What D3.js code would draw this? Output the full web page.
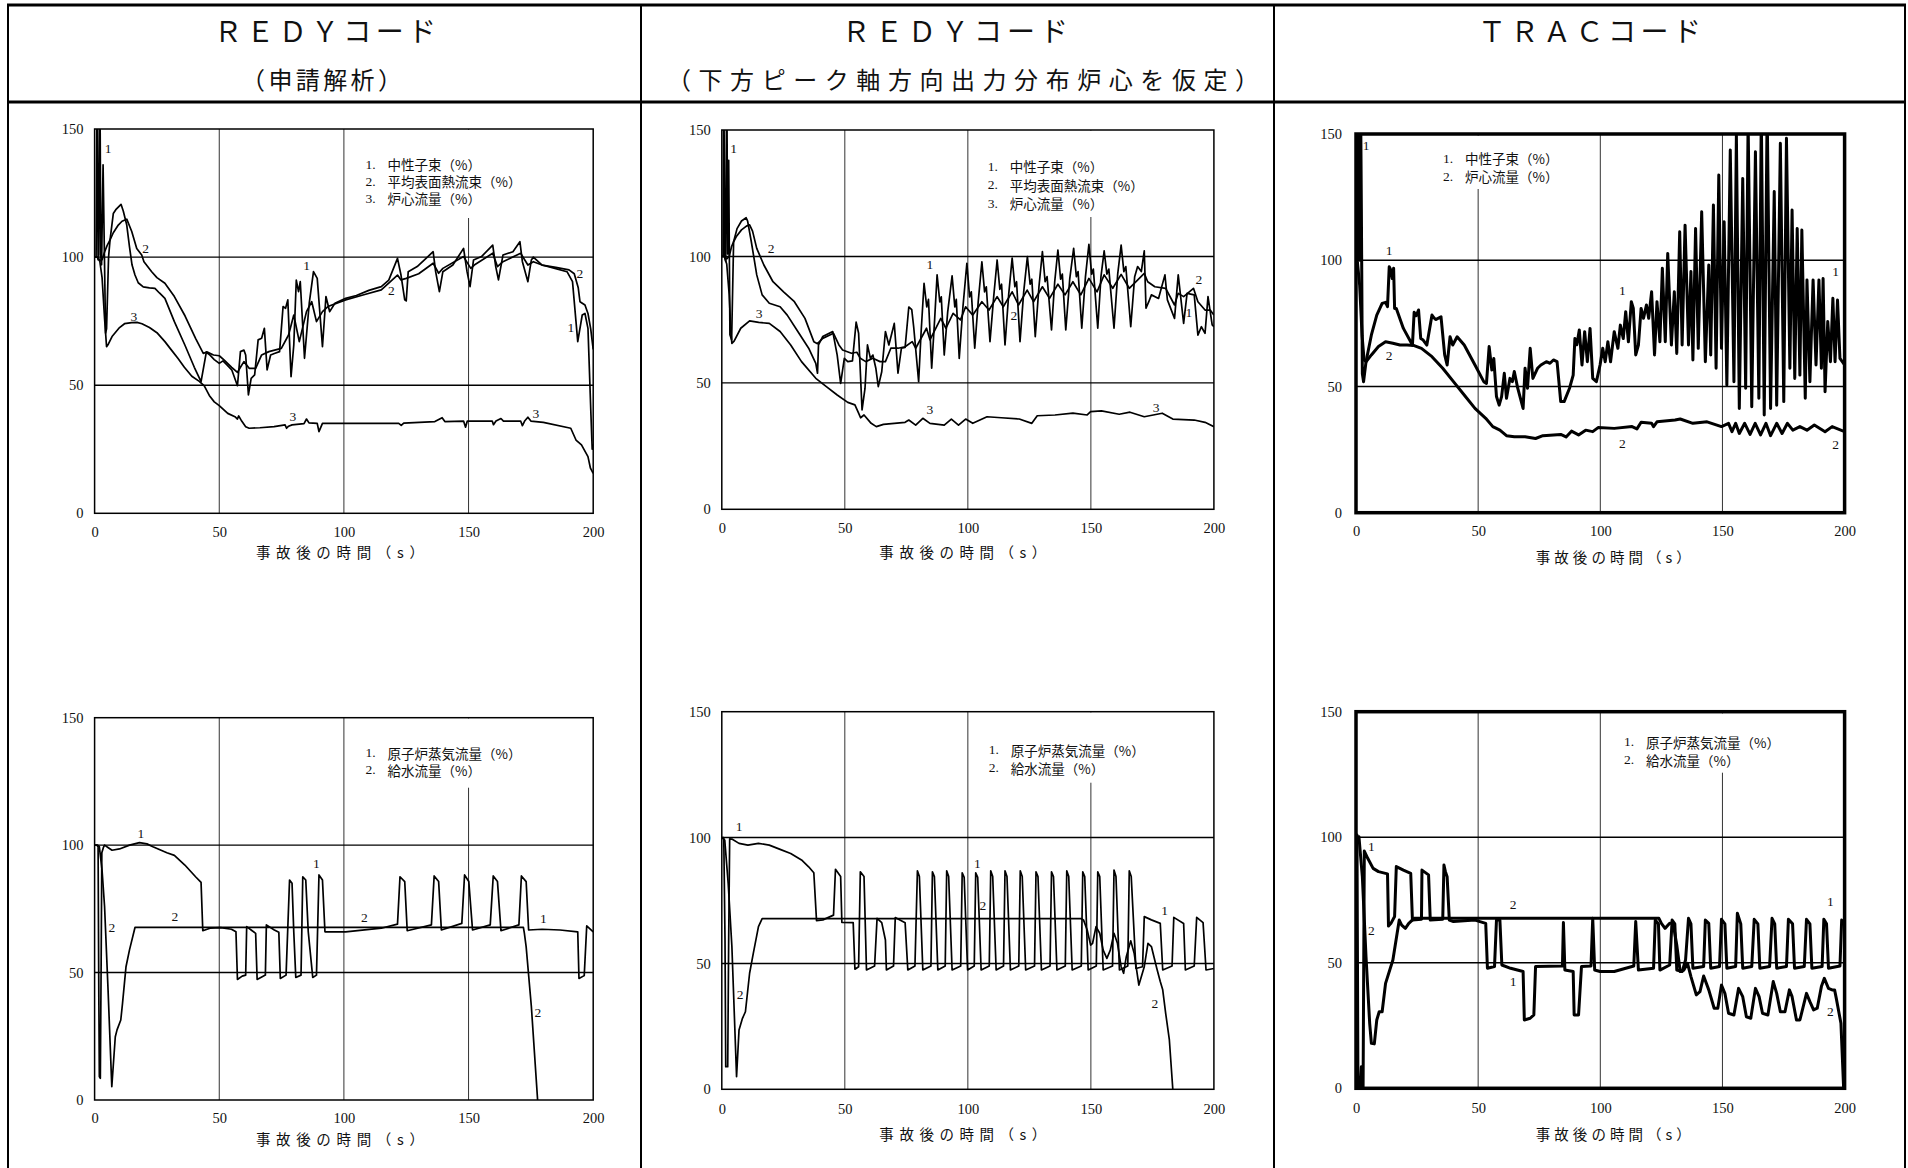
<!DOCTYPE html>
<html><head><meta charset="utf-8">
<script src="https://cdn.jsdelivr.net/npm/d3@7"></script>
<style>body{margin:0;background:#fff;}svg{display:block}</style>
</head><body>
<svg id="c" width="1908" height="1168"></svg>
<script>
// ---------------- DATA ----------------
const xTicks = [0, 50, 100, 150, 200];
const yTicks = [0, 50, 100, 150];
const gridX = [50, 100, 150];
const gridY = [50, 100];
const headerLine1 = ["ＲＥＤＹコード", "ＲＥＤＹコード", "ＴＲＡＣコード"];
const headerLine2 = ["（申請解析）", "（下方ピーク軸方向出力分布炉心を仮定）", ""];
const xTitle = "事故後の時間（s）";
const legendREDY = ["中性子束（%）", "平均表面熱流束（%）", "炉心流量（%）"];
const legendTRAC = ["中性子束（%）", "炉心流量（%）"];
const legendFlow = ["原子炉蒸気流量（%）", "給水流量（%）"];

// Panel 1: REDY (申請解析) – neutron flux / heat flux / core flow
const p1Neutron = [[0,100],[0.6,100],[1.0,175],[1.4,99],[1.7,101],[2.1,175],[2.5,100],[2.8,97],[3.4,136],[4.4,70.4],[4.8,72],[5.6,100],[6.2,106.7],[7.5,117],[8.5,118.5],[10.6,120.6],[11.5,118],[12.9,112.5],[14,104],[15,97],[16.2,93],[17.5,90],[19.5,88.4],[22,88],[24.2,87.8],[26,86],[28.2,83.9],[32,74.8],[36.2,65.7],[40,57],[42.7,51.4],[44.8,62.8],[46,62],[48,60],[50,58.5],[51.5,59.5],[53,58],[55,56],[57.3,49.8],[58.5,63.1],[59.9,63.7],[60.6,61.8],[61.7,46.2],[62.8,52.7],[64.2,54],[65.6,67.7],[67,68.3],[68.1,72.2],[69.2,56],[70.6,61.8],[72.1,62.4],[74.2,63.1],[75.6,80.7],[76.6,80],[77.5,83.3],[78.8,53.3],[79.9,65.7],[80.9,91],[81.8,86.5],[82.5,90.4],[84.2,60.5],[86.1,82],[87.8,94.3],[89.3,91.7],[91.4,65],[92.8,84.6],[94.3,78.7],[96.4,82],[100.7,83.9],[105,85],[110,87],[115,88.5],[118,91],[121.5,99.5],[122.9,93],[124.4,83.3],[125,82.9],[125.8,94.3],[129.4,96.3],[135.8,102.1],[136.8,94.3],[138.3,86.5],[139.7,94.3],[143.7,96.9],[148,103.4],[149.4,94.3],[150.6,88.5],[152,98.9],[155.2,100.2],[159.7,104.7],[160.9,96.3],[162,91.1],[163.8,100.8],[167.8,102.1],[170.6,106],[171.6,98.2],[173.8,90.4],[175.2,98.9],[176,100],[179.5,96.9],[185,95.5],[189.5,94.3],[191.7,90.4],[193.1,74.8],[193.8,67],[195.6,77.4],[196.7,78],[197.9,72.2],[199.1,38.4],[199.6,25],[200,27]];
const p1HeatFlux = [[0,100],[1,100],[2,98.5],[3,99],[4,102],[5,104.5],[6.2,106.7],[7.5,109.5],[9.5,112.5],[11,114],[12.9,114.8],[14.9,110],[16.9,103.4],[18.9,100.8],[19.8,98.2],[22.9,94.3],[25,92],[28.2,89.8],[32,84.6],[36.3,77],[40.5,68.3],[43.6,62.4],[45,63],[47.7,61.8],[50,61.5],[52,59.8],[55,57],[57.3,55],[58.5,57],[59.9,59.2],[62,56.6],[64.6,56.6],[67,61.8],[69.9,63.1],[74.9,64.4],[77.8,69.6],[79.9,77.4],[82.1,67],[85,78.7],[87.1,82.6],[89,74.8],[91.4,78.7],[93.6,80.7],[100.7,83.3],[108,85.3],[115,87.2],[121.5,93],[122.9,91.1],[125,91.7],[130,93.5],[135.8,97.6],[138,93.7],[139.7,95.6],[148,100.2],[150.9,95.6],[152.3,96.9],[159.7,101.5],[161.6,96.3],[163.8,98.2],[170.9,101.5],[173.8,96.9],[176,98.2],[179.5,96.9],[185,96],[190.3,95],[192.4,93.5],[194,88],[194.7,82.6],[196.7,81.3],[197.9,78],[199,72],[200,64]];
const p1CoreFlow = [[0,100],[1,100],[2,99],[3,92],[4,76],[4.8,65],[5.5,66],[7,69],[10,72.5],[12,74],[14.9,74.4],[17,74.5],[19,74],[22,72.5],[25,70.5],[28.2,67],[31,63.5],[33.4,60.5],[36,57],[39,53.5],[42,51.5],[44,49.7],[46,46],[48,43.5],[50,42],[53.4,39],[56.3,37.7],[57.3,36.8],[57.8,38],[59,36],[60.6,33.8],[62,33.2],[66.3,33.4],[72,33.8],[76.4,34.5],[77,33.2],[77.8,34],[79.2,34.5],[84,35],[85,36.8],[86,35.3],[89.3,35.1],[90,31.9],[91.4,35.1],[100.7,35.1],[122,35.1],[123,34.3],[124,35.2],[136.5,35.8],[139.4,37.3],[140.5,35.8],[148,36],[148.8,33.6],[149.5,36],[159.5,36],[160,34.6],[161,36],[163,37],[164,36],[170.9,36],[171.6,34.2],[172.5,36],[173.8,37.5],[175,36],[180,35.5],[191,33.2],[193.1,28.6],[195.3,26.7],[197.9,22.1],[198.9,17.6],[200,15.6]];
const p1Labels = [[5.4,142.5,"1"],[20.5,103.4,"2"],[15.8,77,"3"],[85,96.7,"1"],[119,87,"2"],[79.5,37.7,"3"],[177,39,"3"],[194.7,93.7,"2"],[191,72.5,"1"]];

// Panel 2: REDY (下方ピーク) – neutron flux / heat flux / core flow
const p2Neutron = [[0,100],[0.5,100],[0.8,175],[1.2,100],[1.6,98],[2,175],[2.4,101],[2.8,138],[3.3,69],[4,67],[4.8,105.8],[6.2,111],[8,114],[9.9,115.3],[10.5,114],[12,105.8],[14.2,92.7],[16.4,84.8],[19.3,81.5],[23.7,80.1],[26.6,76.8],[30.9,70.3],[35.3,63.7],[38.2,57.7],[38.9,53.8],[39.3,65],[41,68.3],[45.1,70.3],[46.9,61],[48.3,49.8],[49.8,59.7],[51.2,58.4],[53.1,58.7],[54.6,74],[55.6,69.6],[57,39.3],[58.2,47.8],[59.2,65],[60.4,59.7],[61.4,61],[62.6,55.8],[63.6,48.5],[65,54.4],[66.5,70.3],[67.9,65],[70.1,73.5],[71.6,53.8],[73,63.7],[74.5,64],[76,80],[77.2,79],[78,72],[80,50.5],[81,70],[82.2,89.4],[83.3,80],[84,83],[85.3,55.8],[86.5,75],[87.5,92.7],[88.6,82],[89.2,84],[90.4,61],[91.8,78],[93.6,92.3],[94.7,80],[95.3,83],[96.5,59.7],[98,80],[99.6,97.3],[100.7,84],[101.4,86],[102.8,63.7],[104.2,82],[105.7,97.9],[106.8,86],[107.5,88],[109,66.3],[110.5,84],[111.9,98.6],[113,87],[113.7,89],[115.1,65],[116.6,85],[118,99.3],[119.1,88],[119.8,90],[121.2,66.3],[122.7,86],[124.2,99.9],[125.3,89],[126,91],[127.4,68.3],[128.9,88],[130.3,101.9],[131.4,90],[132.2,92],[134,70.9],[135.3,90],[136.6,102.5],[137.7,91],[138.4,93],[139.8,70.9],[141.4,91],[143,103.2],[144.1,92],[144.8,94],[146.3,71.6],[147.8,92],[149.2,104.8],[150.3,93],[151,95],[152.8,71.6],[154.1,92],[155.4,102.2],[156.5,93],[157.3,95],[159.4,71.6],[160.9,93],[162.3,104.5],[163.4,94],[164.2,96],[166.2,72.2],[167.8,92],[169,96],[170.5,94],[171.7,102.2],[172.4,79.5],[173.5,82],[174.6,84.8],[177.5,83.4],[180.1,92.7],[181.1,82.8],[184,75.5],[185.5,92.7],[187.7,73.5],[189.1,85.4],[192,84.8],[193.5,68.9],[194.9,72.2],[196.4,69.6],[197.6,84.1],[199.3,72.9],[200,72.2]];
const p2HeatFlux = [[0,100],[1,100],[2,99],[3,100],[4,104],[4.8,105.8],[6,108],[8,110.5],[10,112],[11.3,112.5],[12.5,110],[14.2,103.2],[17.1,96.6],[20.8,90],[25.1,86],[29.5,82.1],[33.8,75.5],[37.4,66.3],[38.9,65.5],[41,67.6],[45.4,69.6],[47.6,65],[49.1,63],[52.7,61.7],[54.9,62.1],[56.3,59.7],[58.5,58.4],[61.4,59.7],[64.3,58.4],[66.5,58.4],[68.7,63.7],[71.6,63.7],[74.5,64.3],[77.4,66.3],[78.8,63.7],[83.2,71.6],[84.6,67],[89,75.5],[91.1,71.6],[94,77.5],[97,74.9],[99.1,80.1],[102,76.8],[105.7,82.1],[108.6,78.8],[111.9,84.1],[114.4,80.1],[118,86],[120.6,80.8],[124.1,86.7],[126.7,82.1],[130.3,88],[133.2,83.4],[136.6,89],[139.5,84.8],[142.7,90],[145.9,84.8],[149.2,91.3],[152.5,86],[155.4,92.7],[158.9,87.4],[162.3,92.9],[165.6,87.4],[171.7,93.3],[173.1,90],[176,88],[180.4,87.4],[184,80.8],[185.5,85.4],[187.7,84.1],[191.7,87.4],[193.5,82.1],[196.4,78.8],[198.5,78.8],[200,76.8]];
const p2CoreFlow = [[0,100],[1,100],[2,97],[3,85],[3.7,70],[4.1,65.6],[5,66.5],[7.7,71.6],[11.3,74.5],[15,73.9],[19.3,73.5],[23.7,70.3],[28,65],[32.4,58.4],[38.2,51.8],[42.5,48.5],[46.9,45.2],[51.2,42.3],[54.1,41.3],[55.6,38],[56.4,36.2],[57.8,37.3],[60.7,34],[62.8,32.7],[65.7,33.6],[74.5,34.4],[76,35.3],[78.8,33.3],[81.7,36],[84.6,34],[90.4,33.3],[93.3,35.7],[96.2,33.3],[99.1,35.7],[102,34],[107.8,36.6],[113.6,36.2],[120.9,35.7],[126,34],[128.2,37],[135.4,37.3],[142.7,38],[148.5,37.3],[149.9,38.6],[154.3,38.9],[161.5,37.6],[165.9,38.4],[171.7,36.6],[179,38],[183.3,35.7],[192,35.3],[196.4,34.4],[200,32.7]];
const p2Labels = [[4.8,142.7,"1"],[20,103.2,"2"],[15.2,77.5,"3"],[84.6,96.9,"1"],[118.7,76.8,"2"],[84.6,39.3,"3"],[176.5,40.2,"3"],[193.9,91,"2"],[189.8,77.9,"1"]];

// Panel 3: TRAC – neutron flux / core flow
const p3Neutron = [[0,100],[0.4,100],[0.7,175],[1.2,175],[1.5,100],[1.8,175],[2.2,120],[2.6,55],[3.1,51.9],[4.1,59.8],[6.3,70.4],[8.5,78.3],[10.7,82.9],[12.1,83.3],[12.9,81.6],[13.6,97.4],[14.3,96.1],[14.8,92.8],[15.4,96.8],[15.8,80.9],[16.5,80.9],[19.4,73],[23.1,66.4],[23.8,79.4],[24.6,78],[25.6,80.3],[26.5,69],[27.5,68.4],[29,66.4],[31.1,78.3],[31.9,77.2],[32.6,76.5],[34.8,77.6],[36.3,62.5],[37.3,58.5],[38.5,69.7],[39.6,66.4],[41.4,69.7],[44.3,66.4],[48.7,58.5],[52.3,51.9],[53.4,51.2],[54.5,65.8],[55.6,56.5],[56.4,61.1],[57.5,46],[58.6,42.6],[59.6,46],[60.7,55.2],[61.6,45.3],[63,53.2],[64,51.9],[64.8,55.9],[66.2,49.3],[68.4,41.3],[69.2,57.2],[70.2,49.3],[71.3,65.1],[72.4,53.2],[74.3,57.2],[75.7,58.5],[77.9,59.8],[79.4,59.2],[80.8,60.5],[82.3,59.8],[83.8,44],[85.2,44],[87.4,49.3],[88.9,54.5],[89.6,69],[90.4,66.5],[91.4,72.4],[92.5,58.5],[93.6,71.7],[94.7,59.8],[95.8,73],[96.9,53.2],[98.4,51.9],[99.9,58.5],[101,65.1],[102,59.8],[103.1,67.7],[104.2,59.8],[105.7,71.7],[107.2,65.1],[108.2,74.3],[109.4,69],[110.4,79.6],[111.5,67.7],[112.7,83.6],[113.5,81],[114.5,62.5],[115.6,66.4],[116.7,80.9],[117.7,77],[118.9,82.3],[119.8,77],[121,87.5],[122.2,62.5],[123.2,83.6],[124.4,67.7],[125.4,96.8],[126.6,67.7],[127.6,102.7],[129.1,66.4],[130.3,87.5],[131.3,63.1],[132.5,111.3],[133.5,66.4],[134.7,113.9],[136.1,66.4],[137.1,95.5],[137.9,60.5],[139,112.6],[140.1,65.1],[141.5,119.2],[143,59.8],[144.4,98.1],[145.2,62.5],[146.3,121.9],[147.4,57.2],[148.5,133.8],[149.6,65.1],[150.7,115.2],[151.8,50.6],[153.2,143.7],[154.7,51.9],[155.7,149.6],[156.9,41.3],[158.3,132.4],[159.5,49.3],[160.5,155],[162,42],[163.5,143],[164.9,45.3],[165.9,158],[167.1,38.7],[168.3,160],[169.7,41.3],[171.2,127.2],[172.2,42.6],[173.7,146.3],[175.1,44],[176.2,148.3],[177.6,57.2],[178.5,119.9],[179.6,53.2],[180.6,112.6],[181.7,54.5],[182.5,112],[183.9,45.3],[184.6,92.2],[185.8,51.9],[187.1,92.2],[188.3,58.5],[189.5,92.2],[190.5,57.2],[191.2,92.8],[192,47.9],[193.1,75.7],[194.2,59.8],[195.2,84.9],[196.1,59.8],[197.1,84.2],[198.1,61.1],[200,58.5]];
const p3CoreFlow = [[0,100],[0.5,100],[1.5,90],[2.5,70],[3.3,60.5],[4.1,59.8],[6.3,62.5],[9.2,65.8],[12.1,67.7],[15.1,67.1],[18,66.4],[20.9,66.4],[23.8,66.2],[26.8,65.1],[31.1,61.8],[35.5,57.2],[39.9,51.9],[44.3,46.6],[48.7,41.3],[53.1,37.4],[56,34.1],[58.9,32.7],[61.6,30.5],[64.8,30.1],[69.2,30.1],[73.5,29.4],[76.5,30.5],[83.8,31],[86,30],[88.2,32.3],[91.1,30.8],[94,32.7],[96.9,32.1],[99.1,33.7],[105.7,33.4],[113,34.1],[115,33.2],[116.7,35.8],[121,35.4],[121.8,34.1],[123.2,36],[130.6,36.7],[132.7,37.1],[137.9,35.4],[143.7,36],[149.6,34.1],[152.5,35.4],[153.9,32.1],[155.4,35.4],[156.9,31.4],[159.1,35.4],[161.3,31],[163.4,35.4],[165.6,30.8],[167.8,35.4],[169.7,30.5],[172.2,35.4],[174.4,31.4],[176.6,35.4],[178.8,32.7],[181.7,34.1],[184.6,32.7],[187.6,34.7],[192,32.1],[194.9,34.1],[200,32.1]];
const p3Labels = [[4.1,145.4,"1"],[13.6,104,"1"],[13.6,62.2,"2"],[109,88.2,"1"],[109,27.5,"2"],[196.3,95.5,"1"],[196.3,27.2,"2"]];

// Panel 4: REDY (申請解析) – steam flow / feedwater flow
const p4Steam = [[0,100],[0.9,100],[1.4,99.4],[1.7,40],[1.9,9.2],[2.3,8.5],[2.6,50],[2.9,97],[3.5,99],[4,100],[5.5,99],[7,98],[10,98.5],[14,100],[18,101],[21,100.5],[23.4,99.4],[29,97],[32,96],[36.2,92.2],[40.5,87.6],[42.7,85.4],[43.4,66.4],[46.3,67.4],[50.6,67.6],[54.9,67],[56.7,66],[57.3,47.3],[59.2,48.6],[60.6,49],[61,68],[62.8,66.7],[64.6,65.4],[65.2,47.3],[68.5,49],[68.9,68.7],[72.1,66.7],[73.9,65.8],[74.5,47.7],[76.8,49],[78.2,86.3],[79.2,85],[79.9,65.8],[80.7,48.1],[82.8,49],[83.5,87.6],[84.7,86.3],[85.7,66],[87.5,48.1],[89,49],[90,88.3],[91.4,86.3],[92.4,66],[100.7,66],[115,67.4],[121.5,69],[122.5,87.6],[124.4,85.7],[125.4,66.4],[135.1,68.7],[136.2,87.9],[138,85.7],[139.1,66.7],[147.3,69.3],[148.4,88.3],[150.1,85.7],[151.6,66.7],[158.7,68.7],[159.9,87.9],[161.6,85.7],[163,66.4],[170.2,68.7],[171.2,87.9],[173.1,85.7],[174.1,66.7],[179.5,67],[186.7,66.7],[193.8,66],[194.3,47.7],[196.4,48.8],[197.4,68.3],[200,66]];
const p4Feed = [[0,100],[1.2,100],[1.9,99.4],[3,90],[4,75.9],[5.4,43.2],[6.9,5.2],[8.3,24.8],[9,27.5],[10.5,31.4],[11.2,37.9],[12.6,52.3],[14,58.9],[16.2,67.7],[172,67.7],[172.4,65.4],[173.1,60.2],[175.2,36.6],[177.7,0]];
const p4Labels = [[18.6,104.6,"1"],[6.9,67.7,"2"],[32.2,71.9,"2"],[89,92.9,"1"],[108.2,71.5,"2"],[180,71.3,"1"],[177.8,34.3,"2"]];

// Panel 5: REDY (下方ピーク) – steam flow / feedwater flow
const p5Steam = [[0,100],[0.8,100],[1.3,60],[1.6,9],[2.4,9],[2.8,60],[3.2,99.5],[4.1,99.4],[7,97.7],[10.6,97],[14.9,97.7],[19.3,97],[23.7,95.3],[28,93.7],[32.4,91.1],[35.3,88.4],[37.4,86],[38.5,67],[41.1,67.3],[45.4,69.2],[46.2,87.4],[48.3,84.5],[48.8,66.3],[53.4,66.2],[54.1,47.7],[55.6,48.7],[56.3,86.4],[57.8,84.5],[58.8,47.4],[62.1,49],[63.1,67.9],[65,66.2],[66.5,59.3],[66.9,47.4],[69.8,49],[70.5,68.2],[74.5,66.2],[75.6,47.4],[78.5,49],[79.5,86.8],[80.3,84.5],[81.7,47.4],[85,49],[85.6,86.4],[86.4,84.5],[87.8,47.4],[90.8,49],[91.4,86.8],[92.2,84.5],[93.6,47.4],[97.1,49],[97.7,86],[98.5,84.2],[99.9,47.4],[102.6,49],[103.2,86],[104,84.2],[105.4,47.4],[108.7,49],[109.3,86.8],[110.1,84.5],[111.5,47.4],[114.5,49],[115.1,86.8],[115.9,84.5],[117.3,47.4],[120.7,49],[121.3,86.8],[122.1,84.5],[123.5,47.4],[127.1,49],[127.7,86.4],[128.5,84.5],[129.9,47.4],[133.4,49],[134,86.4],[134.8,84.5],[136.2,47.4],[139.6,49],[140.2,86.8],[141,84.5],[142.4,47.4],[146.1,49],[146.7,86.4],[147.5,84.5],[148.9,47.4],[152.2,49],[152.8,86.4],[153.6,84.5],[155,47.4],[158.8,49],[159.4,87.1],[160.2,84.5],[161.6,47.4],[165,49],[165.6,86.8],[166.4,84.5],[168.3,48],[171,48.7],[171.7,68.6],[174.6,67.3],[178.2,65.9],[179.2,47.4],[183,49],[183.7,68.3],[187.7,65.9],[188.4,47.4],[192,49],[193,68.3],[195.6,66.2],[196.8,47.4],[200,48]];
const p5Feed = [[0,100],[1.2,99],[2.6,81.8],[4.1,56.7],[6,5],[7,23.6],[8.4,28.2],[9.6,30.8],[11.3,46.1],[12.8,54],[14.9,64.6],[16.4,67.8],[146,67.8],[147,67.3],[148.5,63.3],[149.9,57.3],[150.7,58],[152.1,64.6],[153.6,62],[155,55.3],[156.5,52],[157.9,55.3],[159.4,62],[160.8,58],[162.3,48.7],[163.3,46.1],[164.4,52.7],[166.2,59],[167.6,54],[169.5,41.4],[170.5,44.7],[171.7,48.7],[173.2,58],[174.6,56.7],[176.8,48],[178.2,42.8],[179.2,39.5],[180.4,30.2],[181.9,19.6],[183.3,0]];
const p5Labels = [[7,104.3,"1"],[7.4,37.5,"2"],[103.9,89.8,"1"],[106.1,73.2,"2"],[180,71.2,"1"],[176,34.2,"2"]];

// Panel 6: TRAC – steam flow / feedwater flow
const p6Steam = [[0,100.9],[0.4,100.9],[0.8,0],[1.8,0],[2.2,8.6],[2.6,0],[2.9,0],[3.4,94.5],[4.8,91.6],[7,87.6],[9.2,86.3],[12.9,85.4],[13.3,64.6],[14.3,65.7],[15.8,68.4],[16.5,88.3],[19.4,86.9],[22.4,85.6],[23.1,67],[26.8,67.3],[27,86.9],[29.7,85],[30.4,67],[35.5,67.3],[36,88.9],[36.6,86.3],[37.3,84.3],[38.2,67],[39.9,66.4],[48.7,67],[53.1,65.7],[53.8,47.8],[56.7,48.5],[57.5,67],[58.9,67],[59.7,49.1],[63.3,47.8],[68.4,46.5],[68.9,27.2],[71.3,27.9],[72.8,29.2],[73.5,48.5],[84.5,48.7],[84.9,66],[85.5,47.1],[88.9,46.5],[89.3,29.2],[91.1,29.2],[92.3,48.5],[96.2,48.7],[96.9,67.7],[97.7,47.1],[99.9,46.5],[105.7,46.5],[113.7,48.7],[114.5,66.4],[115.6,47.1],[121.8,47.8],[122.5,67],[123.8,65.5],[124.4,47.1],[128.4,49.1],[129.4,67],[130.5,65.5],[131.3,47.1],[133.5,46.5],[134.9,51.1],[136.1,67.7],[137.1,65.5],[137.9,47.8],[142.3,48.5],[143,67],[144.4,65.7],[145.2,47.8],[148.8,48.5],[149.6,67.3],[151,65.5],[151.8,47.8],[155.4,48.5],[156.1,69.7],[157.5,65.5],[158.3,47.8],[162,48.5],[163,67.3],[164.5,65.5],[165.3,47.8],[169.3,48.5],[170.3,67.7],[171.4,65.5],[172.2,47.8],[176.2,48.5],[177,67.3],[178.7,65.5],[179.5,47.8],[183.5,48.5],[184.4,67.3],[185.8,65.5],[186.6,47.8],[190.8,48.5],[191.5,67.3],[192.6,65.5],[193.4,47.8],[198.1,48.7],[198.8,67],[200,65.5]];
const p6Feed = [[0,100],[1.2,100.2],[2.6,84.3],[4.1,52.4],[5.6,25.9],[6.3,17.9],[7.5,17.7],[8.5,27.2],[9.5,30.5],[10.7,30.5],[12.1,41.8],[15.1,51.1],[17.7,67],[18.7,65],[20.2,63.7],[21.6,65.7],[23.8,67.7],[124,67.7],[125,65.7],[126.5,63.7],[128.4,65.7],[129.8,65.7],[131.3,57.1],[132.7,46.5],[134.2,47.1],[135.7,49.8],[137.1,44.5],[139.3,37.2],[140.8,38.5],[142.3,44.7],[144.4,39.2],[146.6,31.9],[148.1,31.9],[149.6,41.1],[151,37.8],[152.5,29.9],[154.7,29.2],[156.6,39.8],[158.3,36.5],[159.8,28.5],[161.6,27.9],[163.5,39.8],[165,36.5],[166.4,29.9],[168.6,29.2],[170.8,42.5],[172.2,37.8],[173.7,30.5],[175.6,30.5],[177.4,39.2],[178.5,36.5],[180.3,27.2],[181.7,27.2],[184.4,37.8],[185.8,34.5],[187.3,31.2],[188.8,31.9],[190.5,40.5],[191.7,43.8],[193.4,39.8],[194.9,39.2],[195.9,39.2],[196.6,35.8],[198.5,25.9],[199.6,0]];
const p6Labels = [[6.3,96.5,"1"],[6.3,63,"2"],[64.3,73.3,"2"],[64.3,42.5,"1"],[194.2,74.3,"1"],[194.2,30.5,"2"]];

// ---------------- LAYOUT ----------------
const SERIF = "'Liberation Serif','Noto Sans CJK JP',serif";
const CJK = "'Noto Sans CJK JP','Liberation Serif',sans-serif";
const svg = d3.select('#c');

const panels = [
  {box:[94.6,129,593.2,513.3], lw:1.7, frame:1.5, series:[p1Neutron,p1HeatFlux,p1CoreFlow], legend:legendREDY, lx:271, ly:35, ls:17, mask:89, labels:p1Labels, tp:13, ty:38, tx:-4, tw:168},
  {box:[721.8,130,1213.9,509.3], lw:1.7, frame:1.5, series:[p2Neutron,p2HeatFlux,p2CoreFlow], legend:legendREDY, lx:266, ly:36, ls:18.5, mask:87, labels:p2Labels, tp:13, ty:42, tx:-5, tw:167},
  {box:[1356,134,1844.6,512.7], lw:3, frame:3.5, series:[p3Neutron,p3CoreFlow], legend:legendTRAC, lx:87, ly:24, ls:18, mask:55, labels:p3Labels, tp:13, ty:44, tx:13, tw:155, lab:14},
  {box:[94.6,717.7,593.2,1100], lw:1.7, frame:1.5, series:[p4Steam,p4Feed], legend:legendFlow, lx:271, ly:35, ls:17, mask:70, labels:p4Labels, tp:13, ty:38, tx:-4, tw:168},
  {box:[721.8,711.7,1213.9,1089.3], lw:1.7, frame:1.5, series:[p5Steam,p5Feed], legend:legendFlow, lx:267, ly:38, ls:18, mask:71, labels:p5Labels, tp:14, ty:44, tx:-5, tw:167},
  {box:[1356,711.7,1844.6,1088.3], lw:3, frame:3.5, series:[p6Steam,p6Feed], legend:legendFlow, lx:268, ly:30, ls:18, mask:61, labels:p6Labels, tp:14, ty:45, tx:13, tw:155, lab:14}
];

// ---------------- TABLE ----------------
const colX = [8, 641, 1274, 1905];
const T = svg.append('g');
T.append('line').attr('x1',colX[0]-1).attr('x2',colX[3]+1).attr('y1',5).attr('y2',5).attr('stroke','#000').attr('stroke-width',3);
T.append('line').attr('x1',colX[0]-1).attr('x2',colX[3]+1).attr('y1',102).attr('y2',102).attr('stroke','#000').attr('stroke-width',3);
colX.forEach(x=>T.append('line').attr('x1',x).attr('x2',x).attr('y1',4).attr('y2',1168).attr('stroke','#000').attr('stroke-width',2));
const h1 = [{c:325,w:222},{c:955,w:226},{c:1589.5,w:223}];
const h2 = [{c:321.5,w:161},{c:963,w:592},{c:1589.5,w:0}];
headerLine1.forEach((s,i)=>{
  T.append('text').attr('x',h1[i].c).attr('y',30).attr('text-anchor','middle').attr('dominant-baseline','central')
   .attr('font-family',CJK).attr('font-size',28).attr('fill','#111')
   .attr('textLength',h1[i].w).attr('lengthAdjust','spacing').text(s);
});
headerLine2.forEach((s,i)=>{
  if(!s) return;
  T.append('text').attr('x',h2[i].c).attr('y',78).attr('text-anchor','middle').attr('dominant-baseline','central')
   .attr('font-family',CJK).attr('font-size',24).attr('fill','#111')
   .attr('textLength',h2[i].w).attr('lengthAdjust','spacing').text(s);
});

// ---------------- PANELS ----------------
panels.forEach((p,pi)=>{
  const [L,Tp,R,B] = p.box;
  const x = d3.scaleLinear().domain([0,200]).range([L,R]);
  const y = d3.scaleLinear().domain([0,150]).range([B,Tp]);
  const g = svg.append('g');
  const cid = 'clip'+pi;
  g.append('clipPath').attr('id',cid).append('rect').attr('x',L).attr('y',Tp).attr('width',R-L).attr('height',B-Tp);

  // grid
  g.selectAll('.gx').data(gridX).join('line').attr('x1',d=>x(d)).attr('x2',d=>x(d)).attr('y1',Tp).attr('y2',B)
    .attr('stroke','#333').attr('stroke-width',1);
  g.selectAll('.gy').data(gridY).join('line').attr('x1',L).attr('x2',R).attr('y1',d=>y(d)).attr('y2',d=>y(d))
    .attr('stroke','#000').attr('stroke-width',1.4);

  // legend (with white backing that hides the grid line)
  const lg = g.append('g');
  const lx = L + p.lx;
  const bg = lg.append('rect').attr('fill','#fff');
  let maxW = 0;
  p.legend.forEach((s,i)=>{
    const yy = Tp + p.ly + i*p.ls;
    lg.append('text').attr('x',lx).attr('y',yy).attr('dominant-baseline','central')
      .attr('font-family',SERIF).attr('font-size',13.5).attr('fill','#111').text((i+1)+'.');
    const t = lg.append('text').attr('x',lx+22).attr('y',yy).attr('dominant-baseline','central')
      .attr('font-family',CJK).attr('font-size',13.5).attr('fill','#111').text(s);
    maxW = Math.max(maxW, t.node().getComputedTextLength());
  });
  bg.attr('x',lx-6).attr('y',Tp+p.frame/2).attr('width',maxW+22+12).attr('height',p.mask-p.frame/2);

  // series
  const line = d3.line().x(d=>x(d[0])).y(d=>y(d[1]));
  const sg = g.append('g').attr('clip-path',`url(#${cid})`);
  p.series.forEach(s=>{
    sg.append('path').datum(s).attr('d',line).attr('fill','none').attr('stroke','#000')
      .attr('stroke-width',p.lw).attr('stroke-linejoin','round');
  });

  // curve labels
  g.selectAll('.lab').data(p.labels).join('text').attr('x',d=>x(d[0])).attr('y',d=>y(d[1]))
    .attr('text-anchor','middle').attr('dominant-baseline','central')
    .attr('font-family',SERIF).attr('font-size',13.5).attr('fill','#111').text(d=>d[2]);

  // frame
  g.append('rect').attr('x',L).attr('y',Tp).attr('width',R-L).attr('height',B-Tp)
    .attr('fill','none').attr('stroke','#000').attr('stroke-width',p.frame);

  // axes (labels only)
  const ax = g.append('g').attr('transform',`translate(0,${B})`)
    .call(d3.axisBottom(x).tickValues(xTicks).tickSize(0).tickPadding(p.tp).tickFormat(d3.format('d')));
  const ay = g.append('g').attr('transform',`translate(${L},0)`)
    .call(d3.axisLeft(y).tickValues(yTicks).tickSize(0).tickPadding(p.lab||11).tickFormat(d3.format('d')));
  [ax,ay].forEach(a=>{
    a.select('.domain').remove();
    a.selectAll('text').attr('font-family',SERIF).attr('font-size',14.5).attr('fill','#111');
  });

  // x title
  g.append('text').attr('x',(L+R)/2+p.tx).attr('y',B+p.ty).attr('text-anchor','middle').attr('dominant-baseline','central')
    .attr('font-family',CJK).attr('font-size',14.5).attr('fill','#111')
    .attr('textLength',p.tw).attr('lengthAdjust','spacing').text(xTitle);
});
</script>
</body></html>
